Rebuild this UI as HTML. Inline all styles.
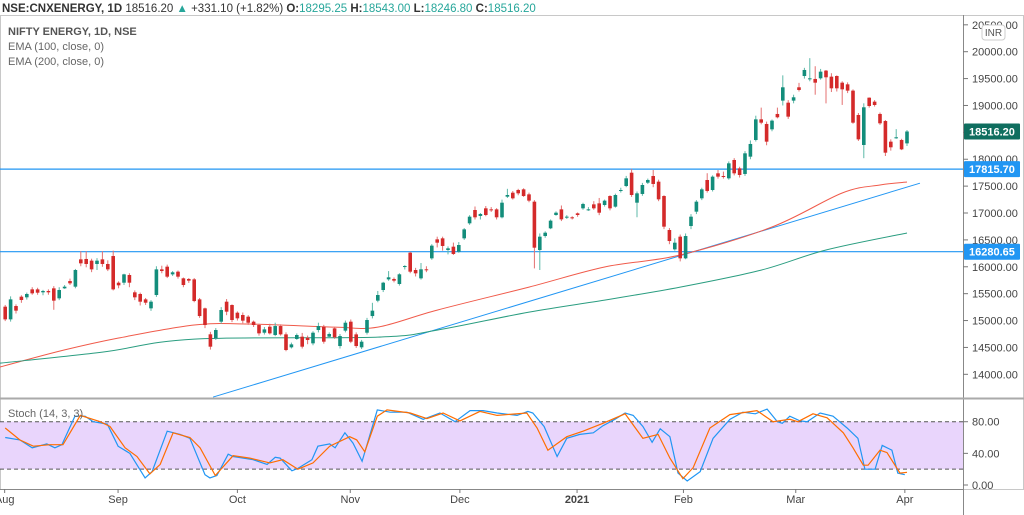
<!DOCTYPE html>
<html><head><meta charset="utf-8">
<style>
body{margin:0;background:#fff;font-family:"Liberation Sans",sans-serif;}
svg{display:block}
</style></head>
<body>
<svg id="c" width="1024" height="515" xmlns="http://www.w3.org/2000/svg">
<defs><clipPath id="mainClip"><rect x="0" y="15" width="963" height="383"/></clipPath>
<clipPath id="stClip"><rect x="0" y="399" width="963" height="90"/></clipPath></defs>
<rect x="0" y="0" width="1024" height="515" fill="#fff"/>
<text x="2" y="12" font-size="11.5" fill="#333"><tspan font-weight="bold">NSE:CNXENERGY, 1D</tspan> 18516.20 <tspan fill="#26a69a">▲</tspan> +331.10 (+1.82%) <tspan font-weight="bold">O:</tspan><tspan fill="#26a69a">18295.25</tspan> <tspan font-weight="bold">H:</tspan><tspan fill="#26a69a">18543.00</tspan> <tspan font-weight="bold">L:</tspan><tspan fill="#26a69a">18246.80</tspan> <tspan font-weight="bold">C:</tspan><tspan fill="#26a69a">18516.20</tspan></text>
<rect x="0.5" y="15.5" width="1023" height="474" fill="none" stroke="#c8c8c8"/>
<rect x="0" y="421.7" width="963" height="47.5" fill="#e9d5fc"/>
<g id="main" clip-path="url(#mainClip)"></g>
<g id="stoch" clip-path="url(#stClip)"></g>
<g id="axes"></g>
<text x="8" y="35" font-size="11" font-weight="bold" fill="#555">NIFTY ENERGY, 1D, NSE</text>
<text x="8" y="50" font-size="11" fill="#666">EMA (100, close, 0)</text>
<text x="8" y="65" font-size="11" fill="#666">EMA (200, close, 0)</text>
<text x="8" y="417" font-size="11" fill="#666">Stoch (14, 3, 3)</text>
</svg>
<script>
const opens=[15258,15022,15270,15444,15432,15580,15580,15525,15550,15599,15413,15599,15735,15630,16138,16145,16114,16052,16138,16052,16200,15704,15704,15847,15525,15494,15394,15227,15475,15952,16002,15859,15909,15785,15773,15766,15394,15227,14744,14669,14979,15351,15289,15146,15103,15072,14979,14917,14774,14886,14731,14898,14743,14502,14657,14700,14681,14576,14824,14886,14700,14855,14526,14812,14979,14743,14502,14774,15084,15370,15568,15766,15773,15680,15998,16262,15940,15785,15953,16157,16510,16529,16312,16374,16281,16529,16808,17056,16945,17087,17068,17068,16920,17304,17378,17428,17440,17347,17211,16312,16572,16715,16963,17068,16920,16920,16994,17087,17056,17161,17180,17149,17316,17118,17409,17502,17750,17192,17354,17564,17688,17583,17316,16684,16324,16560,16157,16758,17025,17273,17614,17428,17738,17688,17645,17986,17831,17726,18048,18358,18742,18656,18556,18842,19090,19052,19090,19338,19548,19486,19493,19505,19648,19536,19548,19424,19393,19276,18823,18265,19145,19071,18842,18711,18327,18401,18358,18295.25];
const closes=[15022,15394,15184,15382,15494,15506,15518,15550,15525,15370,15568,15630,15692,15940,16064,16052,15952,16114,16052,15952,15580,15655,15859,15704,15432,15351,15332,15351,15952,15921,15816,15897,15816,15661,15742,15363,15084,14917,14514,14824,15196,15165,15010,15041,14998,14960,14917,14762,14836,14762,14898,14743,14452,14557,14731,14514,14638,14774,14898,14607,14750,14688,14712,14960,14607,14526,14607,15010,15184,15475,15704,15804,15742,15860,16014,15909,15878,15953,15940,16393,16448,16387,16343,16238,16405,16696,16932,16920,16982,16963,17056,16920,17192,17335,17273,17366,17316,17230,16355,16560,16634,16858,17006,16882,16932,16901,16963,17168,17068,17087,17006,17230,17087,17335,17428,17645,17335,17366,17521,17614,17540,17254,16746,16479,16448,16157,16572,16932,17211,17440,17410,17676,17676,17676,17924,17738,17707,18110,18284,18742,18680,18327,18718,18780,19338,18792,19152,19288,19660,19505,19424,19629,19524,19319,19319,19300,19276,18680,18370,18966,18990,19009,18668,18122,18222,18408,18184,18516.2];
const highs=[15290,15450,15300,15470,15520,15620,15610,15570,15580,15640,15620,15660,15780,15960,16290,16290,16150,16160,16290,16120,16300,15730,15870,15880,15560,15520,15420,15380,16010,16020,16040,15920,15930,15800,15790,15790,15420,15240,14790,14860,15250,15400,15300,15170,15150,15100,15000,14940,14880,14940,14960,14930,14780,14590,14760,14770,14720,14800,14960,14920,14780,14880,14750,15000,15020,14780,14640,15050,15330,15550,15720,15920,15800,15880,16030,16280,15980,16070,16010,16420,16560,16560,16380,16450,16460,16720,16960,17120,17000,17130,17110,17090,17250,17450,17410,17450,17460,17380,17240,16620,16660,16880,17030,17140,16960,16940,17010,17190,17110,17220,17280,17250,17330,17360,17470,17690,17820,17400,17560,17640,17800,17620,17330,16720,16530,16600,16620,16980,17240,17470,17740,17700,17800,17770,17960,18020,17860,18150,18350,18810,18960,18700,18740,18960,19560,19100,19200,19420,19700,19880,19730,19680,19660,19600,19560,19450,19430,19300,18860,19040,19150,19100,18870,18730,18370,18560,18380,18543];
const lows=[14990,14980,15130,15330,15390,15480,15480,15470,15480,15200,15380,15590,15660,15600,16010,15990,15900,15940,16000,15920,15560,15600,15660,15620,15380,15280,15290,15180,15440,15880,15790,15830,15780,15620,15700,15340,15050,14860,14460,14640,14940,15100,14970,15000,14950,14920,14880,14720,14740,14740,14710,14720,14430,14480,14640,14480,14560,14540,14780,14570,14680,14660,14480,14780,14580,14490,14470,14740,15040,15340,15530,15740,15710,15650,15950,15880,15820,15760,15900,16130,16360,16300,16230,16220,16260,16500,16780,16880,16880,16940,17020,16880,16900,17280,17250,17330,17300,17200,15970,15940,16540,16700,16950,16850,16890,16880,16930,17060,17040,17060,16960,17120,17050,17100,17380,17480,17300,16920,17320,17540,17480,17220,16700,16420,16300,16100,16140,16700,16980,17240,17380,17400,17640,17640,17620,17700,17660,17690,18000,18330,18650,18260,18520,18760,19000,18750,19040,19260,19500,19450,19200,19480,19040,19250,19260,19010,19230,18660,18340,18020,18960,18980,18640,18060,18160,18380,18170,18246.8];
const ema100Idx=[-1,11,21,35,45,61,69,80,97,111,125,142,155,162,167];
const ema100Vals=[14135,14454,14675,14917,14936,14879,14879,15195,15623,15995,16219,16739,17372,17521,17577];
const ema200Idx=[-1,18,35,69,80,97,111,125,140,152,167];
const ema200Vals=[14207,14413,14655,14693,14823,15158,15381,15623,15939,16312,16628];
const trendIdx=[38.5,169.4];
const trendVals=[13577,17555];
const hLevels=[17815.70,16280.65];
const priceTicks=[14000,14500,15000,15500,16000,16500,17000,17500,18000,18500,19000,19500,20000,20500];
const stochTicks=[0,40,80];
const kIdx=[0,2.7,5,7.7,9.2,10.5,12.9,14.8,16.3,18.9,20.9,23.1,25.9,27.2,30,32.4,34.2,37,37.9,39.2,41.3,42.2,45.9,48.5,50,50.9,53.1,54.2,56.8,57.9,60.1,61.1,62.9,64.4,66.1,68.9,71.3,74.4,77.4,80.5,83.3,86.1,87.9,88.5,91.1,94.8,96.8,97.7,99.8,102.2,104,106.4,108.9,110.7,112.9,114.8,116.3,118.1,119.8,121.3,123.1,124.6,126.3,128.7,131.1,134.2,136.6,138.9,141.1,143,143.9,145.3,147.2,148.5,150.9,153.3,155.9,157.9,159.2,161.1,162.4,164.2,165.3,166.6];
const kVals=[60,57,47,52,47,51,87,87,80,77,49,40,9,17,68,64,59,13,9,12,39,36,32,26,35,34,18,21,32,49,52,47,66,53,30,95,92,92,83,91,80,94,94,94,91,88,93,91,74,36,59,64,66,75,83,91,88,74,54,71,61,15,5,17,59,83,92,90,96,80,78,87,81,80,91,87,72,59,20,20,50,44,15,13,20];
const dIdx=[0,2.7,5.2,8.3,10.7,13.9,17.6,19.4,22.2,24.4,26.8,28.7,31.1,34.2,36.1,38.9,42.2,45.3,49,51.4,54.2,57,60.1,63.8,65.1,66.6,68.9,70.7,75,78.1,81.1,84.2,87.9,91.1,96.6,98.5,100.5,104,107,110.7,114.8,118.1,120.9,123.1,125.5,127.4,130.5,134.2,139.2,142.2,145.3,146.8,149.6,152.2,155.2,157,158.9,159.8,162,163.3,165.7,167];
const dVals=[72,57,49,51,51,88,80,74,47,36,14,26,66,60,47,12,37,34,28,32,20,28,49,61,57,42,87,95,91,84,91,81,93,88,91,72,44,61,68,78,90,59,64,34,8,22,72,89,94,80,83,80,90,85,66,47,25,25,44,41,15,16];
const dateLabels=["Aug","Sep","Oct","Nov","Dec","2021","Feb","Mar","Apr"];
const dateIdx=[-0.1,20.9,43,63.9,84.2,105.9,125.6,146.4,166.6];

const NS="http://www.w3.org/2000/svg";
const xOf=i=>5.2+5.4*i;
const yP=p=>51.7+(20000-p)*0.05377;
const yS=v=>485-v*0.791;
function mk(tag,attrs,parent){const e=document.createElementNS(NS,tag);for(const k in attrs)e.setAttribute(k,attrs[k]);parent.appendChild(e);return e;}
const main=document.getElementById('main'),st=document.getElementById('stoch'),ax=document.getElementById('axes');

hLevels.forEach(v=>{const l=mk('line',{x1:0,x2:963,y1:yP(v),y2:yP(v),stroke:'#2196f3','stroke-width':1.2},main);

});
{const l=mk('line',{x1:xOf(trendIdx[0]),y1:yP(trendVals[0]),x2:xOf(trendIdx[1]),y2:yP(trendVals[1]),stroke:'#2196f3','stroke-width':1},main);

}
function poly(idx,vals,yf,color,parent,name,w){const pts=idx.map((d,k)=>xOf(d).toFixed(1)+','+yf(vals[k]).toFixed(1)).join(' ');
const p=mk('polyline',{points:pts,fill:'none',stroke:color,'stroke-width':w||1},parent);

}
function smooth(idx,vals,yf,color,parent,name){
  const P=idx.map((d,k)=>[xOf(d),yf(vals[k])]);
  let d='M'+P[0][0]+','+P[0][1];
  for(let i=0;i<P.length-1;i++){const p0=P[Math.max(0,i-1)],p1=P[i],p2=P[i+1],p3=P[Math.min(P.length-1,i+2)];
    const c1=[p1[0]+(p2[0]-p0[0])/6,p1[1]+(p2[1]-p0[1])/6],c2=[p2[0]-(p3[0]-p1[0])/6,p2[1]-(p3[1]-p1[1])/6];
    d+=` C${c1[0].toFixed(1)},${c1[1].toFixed(1)} ${c2[0].toFixed(1)},${c2[1].toFixed(1)} ${p2[0].toFixed(1)},${p2[1].toFixed(1)}`;}
  const p=mk('path',{d:d,fill:'none',stroke:color,'stroke-width':1},parent);
  
  
}
smooth(ema100Idx,ema100Vals,yP,'#f05a4a',main,'ema100-line');
smooth(ema200Idx,ema200Vals,yP,'#2a9d80',main,'ema200-line');
for(let i=0;i<closes.length;i++){
  const up=closes[i]>=opens[i];const col=up?'#138d7b':'#d42a2a';const x=xOf(i);
  const g=mk('g',{},main);
  
  
  mk('line',{x1:x,x2:x,y1:yP(highs[i]),y2:yP(lows[i]),stroke:up?'#5cb8a8':'#e47070','stroke-width':1},g);
  const t=yP(Math.max(opens[i],closes[i])),b=yP(Math.min(opens[i],closes[i]));
  mk('rect',{x:x-1.8,y:t,width:3.6,height:Math.max(1,b-t),fill:col},g);
}
[80,20].forEach(v=>{const l=mk('line',{x1:0,x2:963,y1:yS(v),y2:yS(v),stroke:'#555','stroke-dasharray':'4,3','stroke-width':1},st);

});
poly(kIdx,kVals,yS,'#2196f3',st,'stoch-k-line',1.2);
poly(dIdx,dVals,yS,'#ff6d00',st,'stoch-d-line',1.2);

mk('line',{x1:963.5,x2:963.5,y1:15,y2:515,stroke:'#888'},ax);
mk('line',{x1:0,x2:1024,y1:398.5,y2:398.5,stroke:'#aaa','stroke-width':2},ax);
mk('line',{x1:0,x2:963,y1:489.5,y2:489.5,stroke:'#888'},ax);
priceTicks.forEach(p=>{const y=yP(p);mk('line',{x1:963,x2:968,y1:y,y2:y,stroke:'#777'},ax);
const t=mk('text',{x:972,y:y+4,'font-size':11,fill:'#444'},ax);t.textContent=p.toFixed(2);

});
stochTicks.forEach(v=>{const y=yS(v);mk('line',{x1:963,x2:968,y1:y,y2:y,stroke:'#777'},ax);
const t=mk('text',{x:972,y:y+4,'font-size':11,fill:'#444'},ax);t.textContent=v.toFixed(2);

});
dateLabels.forEach((d,k)=>{const x=xOf(dateIdx[k]);mk('line',{x1:x,x2:x,y1:489,y2:493,stroke:'#777'},ax);
const t=mk('text',{x:x,y:503,'font-size':11,fill:'#444','text-anchor':'middle','font-weight':d==='2021'?'bold':'normal'},ax);t.textContent=d;

});
function tag(v,bg,name){const y=yP(v);const g=mk('g',{},ax);


mk('rect',{x:964,y:y-8,width:56,height:16,fill:bg,rx:1},g);
const t=mk('text',{x:969,y:y+4,'font-size':11,fill:'#fff','font-weight':'bold'},g);t.textContent=v.toFixed(2);}
tag(18516.20,'#0f6e5f','last-price-tag');
tag(17815.70,'#2196f3','level-tag-17815');
tag(16280.65,'#2196f3','level-tag-16280');
{const r=mk('rect',{x:982,y:25,width:23,height:15,rx:3,fill:'#fff',stroke:'#ccc'},ax);


const t=mk('text',{x:993.5,y:36,'font-size':10,fill:'#555','text-anchor':'middle'},ax);t.textContent='INR';

}
</script>
</body></html>
